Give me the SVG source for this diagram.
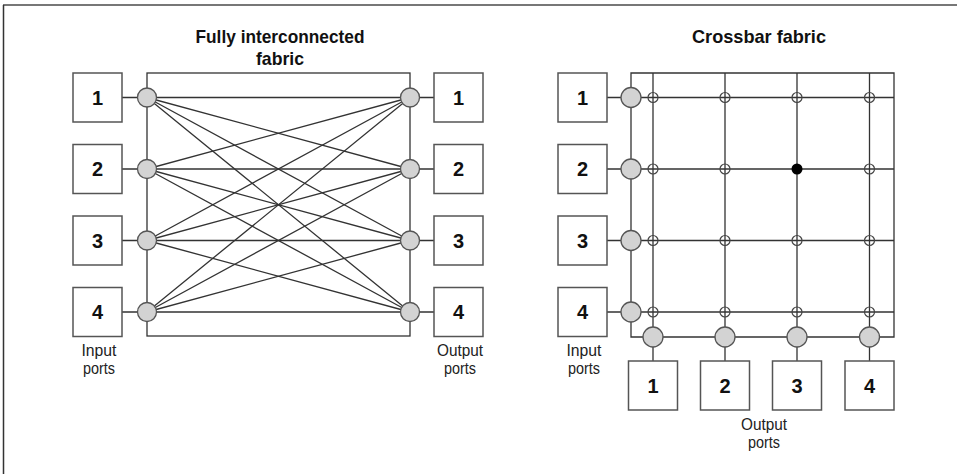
<svg xmlns="http://www.w3.org/2000/svg" width="957" height="474" viewBox="0 0 957 474">
<style>
.box{fill:#fff;stroke:#555;stroke-width:1.5}
.ln{stroke:#333;stroke-width:1.3;fill:none}
.nd{fill:#d3d3d3;stroke:#555;stroke-width:1.3}
.x{fill:none;stroke:#444;stroke-width:1.2}
.num{font-family:"Liberation Sans",Arial,sans-serif;font-weight:bold;font-size:20px;text-anchor:middle;fill:#111}
.ttl{font-family:"Liberation Sans",Arial,sans-serif;font-weight:bold;font-size:19px;text-anchor:middle;fill:#111}
.lbl{font-family:"Liberation Sans",Arial,sans-serif;font-size:16px;text-anchor:middle;fill:#222}
</style>
<rect width="957" height="474" fill="#fff"/>
<line x1="3" y1="5" x2="957" y2="5" stroke="#777" stroke-width="2"/>
<line x1="3.5" y1="5" x2="3.5" y2="474" stroke="#333" stroke-width="1.5"/>

<text class="ttl" x="280" y="43" textLength="169" lengthAdjust="spacingAndGlyphs">Fully interconnected</text>
<text class="ttl" x="280" y="65" textLength="48" lengthAdjust="spacingAndGlyphs">fabric</text>
<text class="ttl" x="759" y="43" textLength="134" lengthAdjust="spacingAndGlyphs">Crossbar fabric</text>

<g id="connectors">
  <rect x="147" y="73" width="263" height="263" class="ln"/>
  <g class="ln">
    <path d="M122 97.5H137.5M122 169H137.5M122 240.5H137.5M122 312H137.5"/>
    <path d="M419.5 97.5H434M419.5 169H434M419.5 240.5H434M419.5 312H434"/>
    <path d="M147 97.5L410 97.5M147 97.5L410 169M147 97.5L410 240.5M147 97.5L410 312"/>
    <path d="M147 169L410 97.5M147 169L410 169M147 169L410 240.5M147 169L410 312"/>
    <path d="M147 240.5L410 97.5M147 240.5L410 169M147 240.5L410 240.5M147 240.5L410 312"/>
    <path d="M147 312L410 97.5M147 312L410 169M147 312L410 240.5M147 312L410 312"/>
  </g>
  <g class="ln">
    <path d="M607 97.5H621M607 169H621M607 240.5H621M607 312H621"/>
    <path d="M631 73H894V337H631Z"/>
    <path d="M641 97.5H894M641 169H894M641 240.5H894M641 312H894"/>
    <path d="M653 73V327M725 73V327M797 73V327M869.5 73V327"/>
    <path d="M653 347V361M725 347V361M797 347V361M869.5 347V361"/>
  </g>
</g>

<g id="in1"><rect class="box" x="73" y="73" width="49" height="49"/><text class="num" x="97.5" y="104.5">1</text></g>
<g id="in2"><rect class="box" x="73" y="144.5" width="49" height="49"/><text class="num" x="97.5" y="176">2</text></g>
<g id="in3"><rect class="box" x="73" y="216" width="49" height="49"/><text class="num" x="97.5" y="247.5">3</text></g>
<g id="in4"><rect class="box" x="73" y="287.5" width="49" height="49"/><text class="num" x="97.5" y="319">4</text></g>
<g id="out1"><rect class="box" x="434" y="73" width="49" height="49"/><text class="num" x="458.5" y="104.5">1</text></g>
<g id="out2"><rect class="box" x="434" y="144.5" width="49" height="49"/><text class="num" x="458.5" y="176">2</text></g>
<g id="out3"><rect class="box" x="434" y="216" width="49" height="49"/><text class="num" x="458.5" y="247.5">3</text></g>
<g id="out4"><rect class="box" x="434" y="287.5" width="49" height="49"/><text class="num" x="458.5" y="319">4</text></g>
<g id="fi-nodes">
  <circle class="nd" cx="147" cy="97.5" r="9.5"/><circle class="nd" cx="147" cy="169" r="9.5"/>
  <circle class="nd" cx="147" cy="240.5" r="9.5"/><circle class="nd" cx="147" cy="312" r="9.5"/>
  <circle class="nd" cx="410" cy="97.5" r="9.5"/><circle class="nd" cx="410" cy="169" r="9.5"/>
  <circle class="nd" cx="410" cy="240.5" r="9.5"/><circle class="nd" cx="410" cy="312" r="9.5"/>
</g>
<g id="fi-labels">
  <text class="lbl" x="99" y="355.5" textLength="35" lengthAdjust="spacingAndGlyphs">Input</text><text class="lbl" x="99" y="373.5" textLength="32" lengthAdjust="spacingAndGlyphs">ports</text>
  <text class="lbl" x="460" y="355.5" textLength="46" lengthAdjust="spacingAndGlyphs">Output</text><text class="lbl" x="460" y="373.5" textLength="32" lengthAdjust="spacingAndGlyphs">ports</text>
</g>

<g id="cin1"><rect class="box" x="558" y="73" width="49" height="49"/><text class="num" x="582.5" y="104.5">1</text></g>
<g id="cin2"><rect class="box" x="558" y="144.5" width="49" height="49"/><text class="num" x="582.5" y="176">2</text></g>
<g id="cin3"><rect class="box" x="558" y="216" width="49" height="49"/><text class="num" x="582.5" y="247.5">3</text></g>
<g id="cin4"><rect class="box" x="558" y="287.5" width="49" height="49"/><text class="num" x="582.5" y="319">4</text></g>
<g id="cout1"><rect class="box" x="628.5" y="361" width="49" height="49"/><text class="num" x="653" y="392.5">1</text></g>
<g id="cout2"><rect class="box" x="700.5" y="361" width="49" height="49"/><text class="num" x="725" y="392.5">2</text></g>
<g id="cout3"><rect class="box" x="772.5" y="361" width="49" height="49"/><text class="num" x="797" y="392.5">3</text></g>
<g id="cout4"><rect class="box" x="845" y="361" width="49" height="49"/><text class="num" x="869.5" y="392.5">4</text></g>
<g id="cb-nodes">
  <circle class="nd" cx="631" cy="97.5" r="10"/><circle class="nd" cx="631" cy="169" r="10"/>
  <circle class="nd" cx="631" cy="240.5" r="10"/><circle class="nd" cx="631" cy="312" r="10"/>
  <circle class="nd" cx="653" cy="337" r="10"/><circle class="nd" cx="725" cy="337" r="10"/>
  <circle class="nd" cx="797" cy="337" r="10"/><circle class="nd" cx="869.5" cy="337" r="10"/>
</g>
<g id="crosspoints">
  <circle class="x" cx="653" cy="97.5" r="5"/><circle class="x" cx="725" cy="97.5" r="5"/><circle class="x" cx="797" cy="97.5" r="5"/><circle class="x" cx="869.5" cy="97.5" r="5"/>
  <circle class="x" cx="653" cy="169" r="5"/><circle class="x" cx="725" cy="169" r="5"/><circle cx="797" cy="169" r="5.5" fill="#000"/><circle class="x" cx="869.5" cy="169" r="5"/>
  <circle class="x" cx="653" cy="240.5" r="5"/><circle class="x" cx="725" cy="240.5" r="5"/><circle class="x" cx="797" cy="240.5" r="5"/><circle class="x" cx="869.5" cy="240.5" r="5"/>
  <circle class="x" cx="653" cy="312" r="5"/><circle class="x" cx="725" cy="312" r="5"/><circle class="x" cx="797" cy="312" r="5"/><circle class="x" cx="869.5" cy="312" r="5"/>
</g>
<g id="cb-labels">
  <text class="lbl" x="584" y="355.5" textLength="35" lengthAdjust="spacingAndGlyphs">Input</text><text class="lbl" x="584" y="373.5" textLength="32" lengthAdjust="spacingAndGlyphs">ports</text>
  <text class="lbl" x="764" y="430" textLength="46" lengthAdjust="spacingAndGlyphs">Output</text><text class="lbl" x="764" y="448" textLength="32" lengthAdjust="spacingAndGlyphs">ports</text>
</g>
</svg>
